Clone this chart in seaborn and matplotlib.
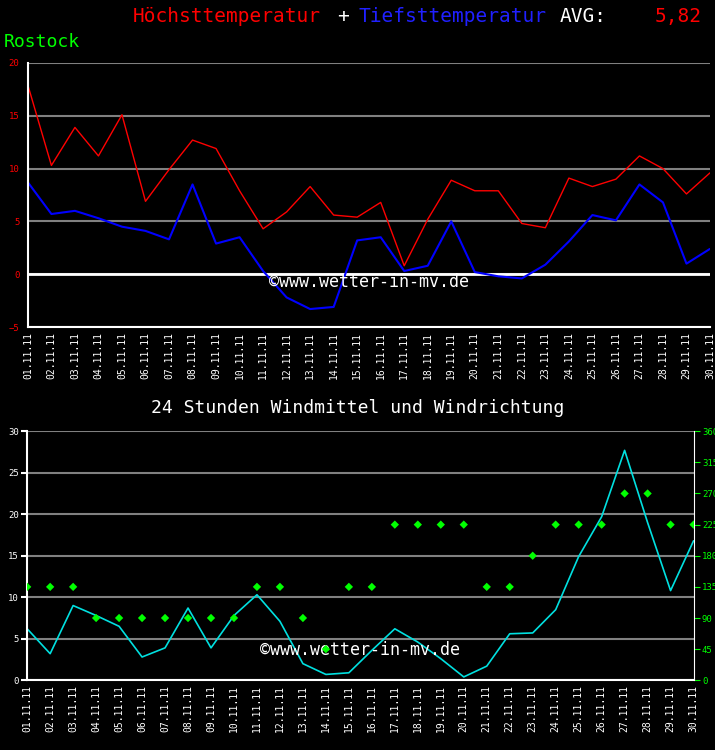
import matplotlib
matplotlib.use("Agg")
import matplotlib.pyplot as plt
import seaborn as sns
import pandas as pd

days = [f"{d:02d}.11.11" for d in range(1, 31)]
hoechst = [17.9, 10.3, 13.9, 11.2, 15.1, 6.9, 9.9, 12.7, 11.9, 7.9, 4.3, 5.9, 8.3, 5.6, 5.4,
           6.8, 0.8, 5.2, 8.9, 7.9, 7.9, 4.8, 4.4, 9.1, 8.3, 9.0, 11.2, 10.0, 7.6, 9.6]
tiefst = [8.7, 5.7, 6.0, 5.3, 4.5, 4.1, 3.3, 8.5, 2.9, 3.5, 0.3, -2.2, -3.3, -3.1, 3.2,
          3.5, 0.3, 0.8, 5.0, 0.2, -0.2, -0.4, 0.9, 3.1, 5.6, 5.1, 8.5, 6.8, 1.0, 2.4]
wind = [6.2, 3.2, 9.0, 7.8, 6.5, 2.8, 3.9, 8.7, 3.9, 7.8, 10.3, 7.1, 2.0, 0.7, 0.9,
        3.6, 6.2, 4.6, 2.6, 0.4, 1.7, 5.6, 5.7, 8.5, 14.9, 19.7, 27.7, 19.0, 10.8, 16.8]
richtung = [135, 135, 135, 90, 90, 90, 90, 90, 90, 90, 135, 135, 90, 45, 135,
            135, 225, 225, 225, 225, 135, 135, 180, 225, 225, 225, 270, 270, 225, 225]

df = pd.DataFrame({"tag": range(30), "hoch": hoechst, "tief": tiefst,
                   "wind": wind, "richtung": richtung})

mono = "DejaVu Sans Mono"
sns.set_style("dark", {"axes.facecolor": "black", "figure.facecolor": "black"})
plt.rcParams["font.family"] = [mono]

fig = plt.figure(figsize=(7.15, 7.5), dpi=100)
fig.patch.set_facecolor("black")

def style_axes(ax, ymin, ymax, step, tickcolor):
    ax.set_facecolor("black")
    ax.set_xlim(0, 29)
    ax.set_ylim(ymin, ymax)
    ax.set_yticks(range(ymin, ymax + 1, step))
    for y in range(ymin, ymax + 1, step):
        ax.axhline(y, color="#808080", lw=1.5, zorder=0)
    for s in ["top", "right"]:
        ax.spines[s].set_visible(False)
    for s in ["left", "bottom"]:
        ax.spines[s].set_color("white")
        ax.spines[s].set_linewidth(1.5)
    ax.tick_params(axis="y", colors=tickcolor, labelsize=6.5, length=4, width=1.5, pad=2)
    ax.tick_params(axis="x", colors="white", labelsize=7, length=6, width=1.5, direction="in")
    ax.set_xticks(range(30))
    ax.set_xticklabels(days, rotation=90)
    ax.set_xlabel("")
    ax.set_ylabel("")

# Temperatur
ax1 = fig.add_axes([0.039, 0.564, 0.954, 0.352])
style_axes(ax1, -5, 20, 5, "red")
ax1.axhline(0, color="white", lw=2, zorder=1)
sns.lineplot(data=df, x="tag", y="hoch", color="red", lw=1, ax=ax1)
sns.lineplot(data=df, x="tag", y="tief", color="blue", lw=1.5, ax=ax1)
ax1.set_xlabel("")
ax1.set_ylabel("")
ax1.text(0.5, 0.17, "©www.wetter-in-mv.de", color="white", fontsize=12,
         ha="center", va="center", transform=ax1.transAxes, family=mono)

# Wind
ax2 = fig.add_axes([0.038, 0.093, 0.932, 0.332])
style_axes(ax2, 0, 30, 5, "white")
sns.lineplot(data=df, x="tag", y="wind", color="#00e0e0", lw=1.2, ax=ax2)
ax2.set_xlabel("")
ax2.set_ylabel("")
ax3 = ax2.twinx()
ax3.set_ylim(0, 360)
ax3.set_yticks(range(0, 361, 45))
sns.scatterplot(data=df, x="tag", y="richtung", color="#00ff00", marker="D", s=18,
                edgecolor="none", ax=ax3, zorder=3)
ax3.set_xlim(0, 29)
ax3.set_ylabel("")
for s in ax3.spines.values():
    s.set_visible(False)
ax3.spines["right"].set_visible(True)
ax3.spines["right"].set_color("white")
ax3.tick_params(axis="y", colors="#00ff00", labelsize=6.5, length=4, pad=2)
ax2.text(0.5, 0.12, "©www.wetter-in-mv.de", color="white", fontsize=12,
         ha="center", va="center", transform=ax2.transAxes, family=mono)

# Titel
fig.text(0.186, 0.978, "Höchsttemperatur", color="red", fontsize=14, family=mono, va="center")
fig.text(0.472, 0.978, "+", color="white", fontsize=14, family=mono, va="center")
fig.text(0.501, 0.978, "Tiefsttemperatur", color="#2020ff", fontsize=14, family=mono, va="center")
fig.text(0.783, 0.978, "AVG:", color="white", fontsize=14, family=mono, va="center")
fig.text(0.916, 0.978, "5,82", color="red", fontsize=14, family=mono, va="center")
fig.text(0.005, 0.944, "Rostock", color="#00ff00", fontsize=13, family=mono, va="center")
fig.text(0.5, 0.456, "24 Stunden Windmittel und Windrichtung", color="white", fontsize=13,
         family=mono, ha="center", va="center")

fig.savefig("out.png", dpi=100, facecolor="black")
